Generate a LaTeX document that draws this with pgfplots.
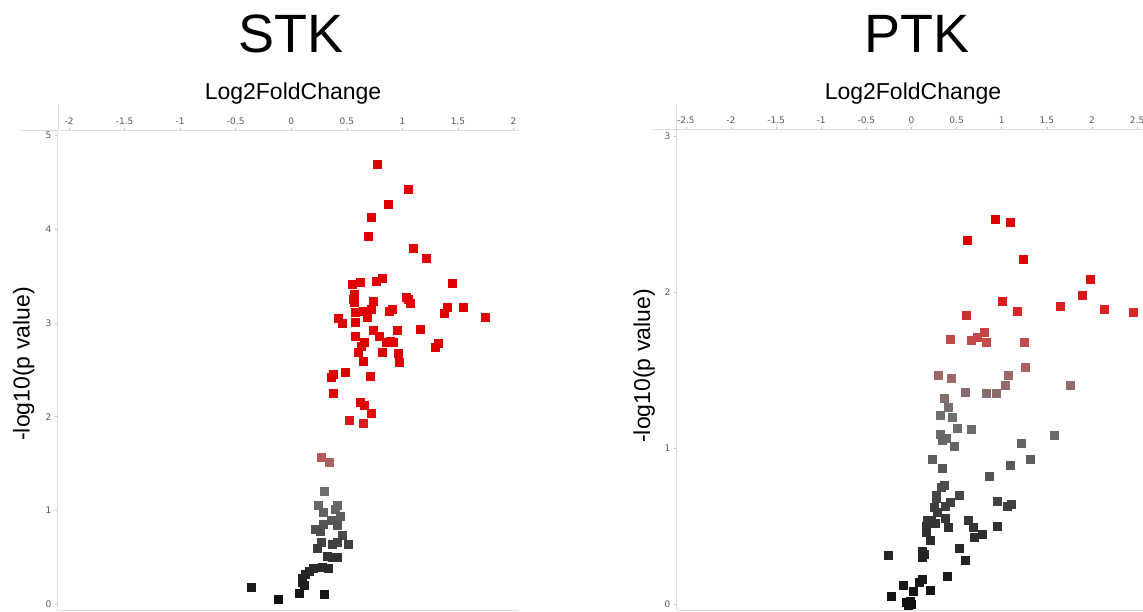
\documentclass[border=0pt]{standalone}
\usepackage{fontspec}
\setmainfont{Liberation Sans}
\newfontfamily\tickfont{DejaVu Sans}
\usepackage{pgfplots}
\usepackage{pgfplotstable}
\pgfplotsset{compat=1.18}

\pgfplotstableread{
x y
0.777 4.70
1.054 4.43
0.871 4.27
0.721 4.13
0.694 3.93
1.099 3.80
1.219 3.69
1.450 3.43
0.552 3.41
0.622 3.44
0.760 3.45
0.820 3.48
0.568 3.31
0.556 3.25
0.562 3.22
0.736 3.23
1.033 3.28
1.054 3.25
1.069 3.21
1.550 3.17
1.403 3.17
1.375 3.11
1.742 3.06
0.571 3.12
0.646 3.13
0.718 3.15
0.679 3.06
0.877 3.13
0.907 3.15
0.420 3.05
0.454 3.00
0.571 3.01
0.736 2.92
0.793 2.86
0.952 2.92
1.159 2.93
0.577 2.86
0.655 2.79
0.628 2.75
0.601 2.69
0.856 2.79
0.892 2.81
0.919 2.79
0.820 2.69
0.961 2.68
0.970 2.58
0.646 2.59
1.295 2.74
1.327 2.78
0.381 2.45
0.363 2.42
0.486 2.48
0.706 2.43
0.378 2.25
0.619 2.16
0.652 2.12
0.721 2.04
0.520 1.96
0.646 1.93
0.267 1.57
0.345 1.51
0.300 1.20
0.246 1.06
0.291 0.98
0.417 1.05
0.399 1.01
0.441 0.94
0.363 0.89
0.291 0.85
0.417 0.84
0.219 0.80
0.261 0.78
0.454 0.73
0.417 0.66
0.366 0.64
0.514 0.64
0.267 0.66
0.237 0.60
0.321 0.51
0.369 0.50
0.411 0.50
0.282 0.39
0.330 0.38
0.201 0.38
0.165 0.35
0.126 0.32
0.096 0.28
0.102 0.23
0.117 0.20
0.075 0.12
-0.360 0.18
-0.114 0.05
0.300 0.11
}\stk

\pgfplotstableread{
x y
0.925 2.47
1.099 2.45
0.622 2.33
1.235 2.21
1.985 2.08
1.896 1.98
1.006 1.94
1.169 1.88
1.649 1.91
2.137 1.89
2.458 1.87
0.611 1.85
0.803 1.74
0.733 1.71
0.667 1.69
0.825 1.68
0.434 1.70
1.250 1.68
1.258 1.52
0.301 1.47
0.445 1.45
1.069 1.47
1.036 1.40
1.764 1.40
0.593 1.36
0.825 1.35
0.936 1.35
0.363 1.32
0.412 1.26
0.319 1.21
0.456 1.20
0.504 1.13
0.667 1.12
0.319 1.09
0.390 1.06
0.341 1.05
0.468 1.01
1.582 1.08
1.221 1.03
1.321 0.93
1.091 0.89
0.231 0.93
0.345 0.87
0.859 0.82
0.360 0.76
0.334 0.75
0.275 0.70
0.534 0.70
0.271 0.68
0.430 0.65
0.371 0.63
0.249 0.62
0.286 0.59
0.955 0.66
1.066 0.63
1.110 0.64
0.375 0.55
0.172 0.54
0.224 0.54
0.161 0.50
0.264 0.52
0.404 0.49
0.634 0.54
0.685 0.49
0.696 0.43
0.785 0.45
0.955 0.50
0.168 0.46
0.209 0.41
0.120 0.34
0.142 0.32
0.124 0.30
0.530 0.36
0.593 0.28
-0.260 0.31
0.401 0.18
-0.091 0.12
0.086 0.14
0.124 0.16
0.213 0.09
0.020 0.08
-0.230 0.05
-0.053 0.01
-0.017 0.02
-0.035 -0.01
0.002 0.00
}\ptk

\pgfplotsset{
  vp/.style={
    scale only axis,
    axis x line*=top, axis y line*=left,
    axis line style={-, draw=black!13, line width=1pt},
    xticklabel pos=upper,
    tick style={draw=black!25, line width=0.6pt},
    major tick length=3pt,
    tick align=outside,
    ticklabel style={font=\tickfont\fontsize{9}{10}\selectfont, text=black!65},
    /pgf/number format/assume math mode=true,
    colormap={vpmap}{[5pt] rgb255(0pt)=(15,15,15) rgb255(50pt)=(50,50,50) rgb255(100pt)=(100,100,100) rgb255(125pt)=(118,112,112) rgb255(145pt)=(155,105,105) rgb255(160pt)=(185,85,85) rgb255(175pt)=(200,65,65) rgb255(190pt)=(215,35,35) rgb255(210pt)=(222,5,5) rgb255(240pt)=(225,0,0)},
    point meta min=0, point meta max=2.4,
    clip=false,
  },
  vpplot/.style={scatter, only marks, mark=square*, mark size=4pt, point meta=\thisrow{y},
    scatter/use mapped color={draw=mapped color, fill=mapped color}},
}

\begin{document}
\begin{tikzpicture}[x=1pt,y=1pt]
\useasboundingbox (0,0) rectangle (1143,612);
% titles
\node[anchor=base, font=\fontsize{54}{60}\selectfont] at (291,559.3) {STK};
\node[anchor=base, font=\fontsize{54}{60}\selectfont] at (916.7,559.3) {PTK};
\node[anchor=base, font=\fontsize{23}{26}\selectfont] at (293,512) {Log2FoldChange};
\node[anchor=base, font=\fontsize{23}{26}\selectfont] at (913,512) {Log2FoldChange};
\node[anchor=base, rotate=90, font=\fontsize{23}{26}\selectfont] at (29.5,248) {-log10(p value)};
\node[anchor=base, rotate=90, font=\fontsize{23}{26}\selectfont] at (650,246) {-log10(p value)};

% axis line extensions
\draw[black!13, line width=1pt] (20,481) -- (58,481);
\draw[black!13, line width=1pt] (58,481) -- (58,508);
\draw[black!13, line width=1pt] (652,482.16) -- (676.8,482.16);
\draw[black!13, line width=1pt] (676.8,482.16) -- (676.8,507);

\begin{axis}[vp, at={(58pt,1.4pt)}, anchor=south west, width=461pt, height=479.6pt,
  xmin=-2.1, xmax=2.05, ymin=-0.07, ymax=5.05,
  xtick={-2,-1.5,-1,-0.5,0,0.5,1,1.5,2}, ytick={0,1,2,3,4,5}]
  \addplot[vpplot] table[x=x,y=y] {\stk};
  \draw[black!13, line width=1pt] (rel axis cs:0,0) -- (rel axis cs:1,0);
\end{axis}

\begin{axis}[vp, at={(676.8pt,1.76pt)}, anchor=south west, width=465.7pt, height=480.4pt,
  xmin=-2.6, xmax=2.56, ymin=-0.04, ymax=3.04,
  xtick={-2.5,-2,-1.5,-1,-0.5,0,0.5,1,1.5,2,2.5}, ytick={0,1,2,3}]
  \addplot[vpplot] table[x=x,y=y] {\ptk};
  \draw[black!13, line width=1pt] (rel axis cs:0,0) -- (rel axis cs:1,0);
\end{axis}
\end{tikzpicture}
\end{document}
